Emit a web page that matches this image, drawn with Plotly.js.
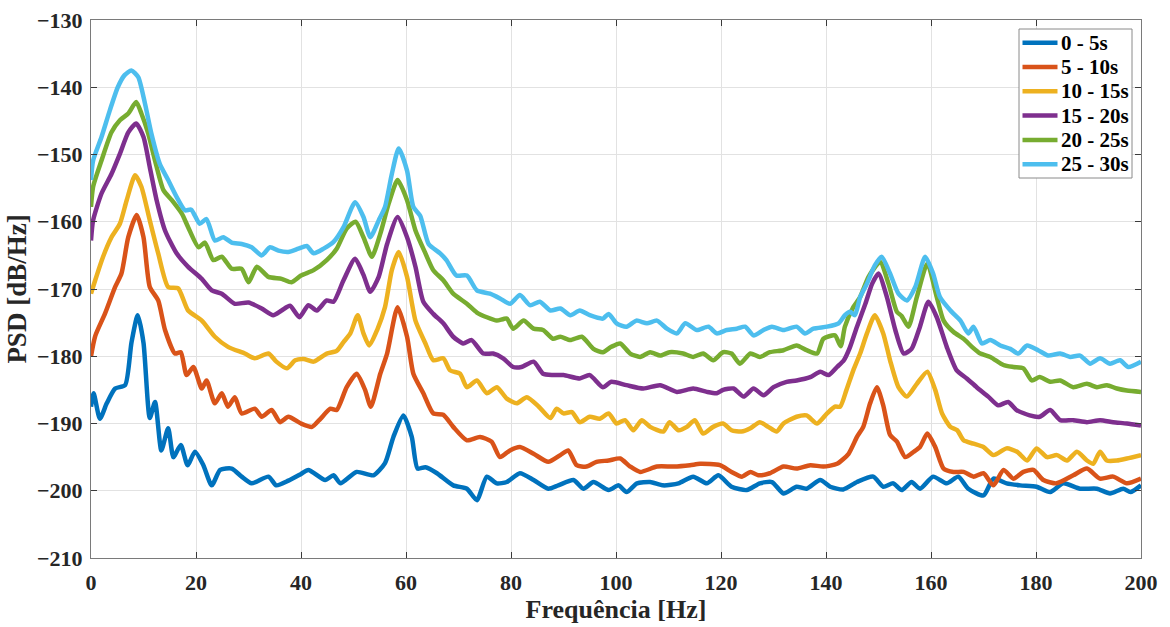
<!DOCTYPE html>
<html>
<head>
<meta charset="utf-8">
<script src="https://cdn.plot.ly/plotly-3.0.1.min.js"></script>
<style>html,body{margin:0;padding:0;background:#fff;}#chart{width:1170px;height:627px;}</style>
</head>
<body>
<div id="chart"></div>
<script>
// Legend labels
const seriesNames = ["0 - 5s", "5 - 10s", "10 - 15s", "15 - 20s", "20 - 25s", "25 - 30s"];

// 0 - 5s
const f0 = [0,0.5,1.7,3,4.6,6.5,7.7,8.9,10,11.2,12.2,13.4,14.7,15.7,17.1,18.4,19.8,21.4,23,24.6,26.8,28.7,30.6,33.8,35.3,37.6,40,41.4,44.6,46.2,47.5,50.6,53.8,56,57.6,59.5,61.1,62.2,63.7,65.9,69,71.6,73.5,75.4,77.3,79.2,81.7,84.3,87.1,89,91.9,93.8,95.7,98.6,100.5,102,104,106.5,109,111.9,114.7,117.3,119.5,122,124.9,127.4,129.7,131.9,134.4,136.3,138.9,140.8,143.3,145.9,149,150.9,152.8,154.4,156.3,157.9,160.4,163,165.2,167.1,170,171.9,174.4,177,180.1,182.7,185.2,188.4,191.6,194.1,196.6,198,200];
const p0 = [-187.5,-185.5,-189.3,-187,-184.8,-184.3,-178,-173.9,-178,-189.2,-186.8,-194,-190.7,-195,-193.2,-196.2,-194.2,-196.2,-199.2,-196.9,-196.7,-197.9,-198.9,-197.9,-199.2,-198.5,-197.5,-196.9,-198.4,-197.7,-198.9,-197.2,-197.7,-195.9,-192,-188.8,-192,-196.7,-196.5,-197.4,-199.2,-199.7,-201.4,-197.9,-198.9,-198.7,-197.4,-198.4,-199.7,-199.2,-198.4,-199.7,-198.7,-199.9,-199.2,-200.2,-198.9,-198.7,-199.2,-198.9,-197.9,-198.9,-197.7,-199.4,-199.9,-198.9,-198.7,-200.4,-199.4,-199.7,-198.4,-199.4,-199.8,-198.7,-197.9,-199.4,-198.9,-199.9,-198.7,-199.7,-197.9,-198.9,-197.9,-199.7,-200.7,-198.2,-198.9,-199.2,-199.4,-200.2,-198.9,-199.7,-199.7,-200.4,-199.7,-200.2,-199.2];

// 5 - 10s
const f1 = [0,0.8,2.7,4.6,5.8,7.1,8.7,10,11.2,12.8,14.1,16,17.1,18.2,19.5,21.1,22,23.6,24.9,26.1,27.4,28.7,31.2,32.5,34.4,36,37.6,40,42.1,43.7,45.6,46.8,48.7,50.6,52.2,53.3,55.1,56.4,58.4,60.2,61.4,63.3,65.2,67.1,69,71.6,74.1,76.3,77.9,79.8,81.7,84.3,87.1,89.4,90.9,92.5,94.4,96.3,98.6,100.8,102.7,104.6,107.8,111,114.1,116,119.8,122,124,125.6,127.1,129.3,131.9,134.4,137,139.5,142.1,144.3,145.9,147.1,148.4,149.7,150.9,152.2,153.5,155.1,156.7,157.9,159.3,160.8,162.4,164.3,166.2,168.1,170,171.9,173.8,175.7,177.6,179.5,181.4,183.9,187.1,189.7,192.2,194.7,197.3,200];
const p1 = [-180,-177,-173.6,-169.7,-167.7,-162.3,-159,-162.3,-169.7,-171.7,-176.1,-179.6,-179.4,-182.8,-181.6,-184.8,-183.6,-187,-185.5,-187.5,-186.1,-188.5,-187.8,-189,-188,-189.8,-189,-190,-190.5,-189.3,-187.8,-188,-184.6,-182.6,-185,-187.5,-182.6,-179.6,-172.7,-177.1,-182.6,-185.5,-188.5,-188.7,-190.5,-192.5,-192,-192.7,-195,-194,-193.5,-194.5,-195.7,-194.7,-194,-196.2,-196.4,-195.7,-195.5,-195.2,-196.4,-197.2,-196.4,-196.4,-196.2,-196,-196.2,-197.2,-197.9,-197.2,-197.7,-197.4,-196.4,-196.7,-196.2,-196.4,-196,-194.5,-192,-190.5,-187,-184.6,-187.3,-191.7,-192.7,-195,-194.2,-193.5,-191.5,-193.5,-196.7,-197.2,-197.2,-197.9,-197.4,-199.2,-196.9,-198.2,-197.2,-196.9,-198.4,-198.9,-197.7,-196.7,-198.2,-197.9,-198.9,-198.2];

// 10 - 15s
const f2 = [0,0.8,2.3,3.9,5.5,6.8,8.4,9.6,11.2,12.8,14.7,16.6,18.5,21.1,23.6,26.1,29.3,31.2,33.8,35.3,37.3,38.9,40.5,42.4,44.9,46.8,48.1,49.4,50.8,51.9,53,54.5,56,57.3,58.6,60.2,61.8,63.7,65.2,67.1,68.4,70.3,71.6,73.5,75.4,77.3,79.2,81.1,83,85.3,87.5,88.7,90,91.6,93.1,95,96.9,98.6,100.1,101.7,103.3,104.9,106.5,109,110.2,111.9,113.5,115,116.6,118.5,120.4,122,123.9,125.6,127.4,129,130.6,131.9,134.4,136.3,138.3,140.2,141.7,142.7,143.9,145.2,146.5,147.8,149.3,150.9,152.2,153.8,155.4,157.3,159.3,160.8,162.1,163.7,165,166.2,168.1,170,171.9,174.4,176.4,178.3,180.1,182.1,184,185.9,187.8,189.7,190.9,192.2,193.5,195.4,197.3,200];
const p2 = [-170.7,-168.7,-165.2,-162.3,-160.3,-156.8,-153.1,-154.8,-159.8,-164.7,-169.7,-169.9,-173.2,-174.7,-177.1,-178.6,-179.6,-180.3,-179.6,-180.8,-181.8,-180.6,-180.4,-180.8,-179.6,-179.2,-177.9,-176.6,-173.9,-176.6,-178.4,-176.1,-172.7,-167.2,-164.5,-168.2,-174.7,-178.1,-180.6,-180.3,-182.1,-182.6,-184.6,-183.6,-185.5,-184.6,-186.3,-187,-186.1,-187.5,-189.2,-187.8,-188.5,-188.3,-189.8,-189,-189.3,-188.5,-190,-189.5,-191,-189.5,-190.5,-191.2,-189.8,-191,-190.5,-189.5,-191.5,-190.5,-190,-191,-191.2,-190.7,-189.8,-190.5,-191.2,-190,-189,-188.8,-190,-188.5,-187.5,-187.5,-185,-182.1,-179.6,-176.6,-173.9,-176.6,-180.6,-184.6,-186,-184.1,-182.3,-185,-188.5,-190.5,-191,-192.5,-193,-193.5,-194.7,-193.7,-194.2,-195.5,-193.7,-195,-194.7,-195.5,-194.2,-195.5,-196,-194.2,-195.5,-195.5,-195.2,-194.7];

// 15 - 20s
const f3 = [0,0.4,2,3.9,5.5,7.1,8.6,10,11.2,12.5,14.1,16.3,18.5,21.1,23,24.9,27.4,30,32.5,34.7,36.3,37.9,39.7,41.4,43,44.9,46.2,48.1,50.3,51.9,53.2,54.8,56.4,58.4,60.2,61.8,63.3,65.2,67.1,69,70.9,72.5,74.7,76.6,78.5,80.4,82,84.3,86.1,88,90,93.1,95,97.5,99.1,102,105.2,108.4,111.6,114.7,117.3,119.2,120.4,122.4,124.3,126.2,128.1,130,132.5,134.4,137,138.9,140.5,142.1,143.4,144.5,145.9,147.5,148.8,150,151.6,153.2,154.8,156.3,157.9,159.5,161.1,163,164.9,166.8,168.7,170.9,172.8,174.7,176.3,178.8,180.7,182.7,184.6,187.1,189.7,192.2,194.7,197.3,200];
const p3 = [-162.8,-159.8,-155.8,-152.9,-149.9,-146.7,-145.4,-147.4,-151.9,-156.8,-161.3,-164.7,-166.7,-168.5,-170.2,-170.7,-172.2,-172,-172.9,-173.9,-173.2,-172.5,-174.2,-172.4,-173.2,-171.7,-171.9,-168.7,-165.5,-167.9,-170.4,-168.2,-163.3,-159.3,-162.3,-166.7,-171.9,-173.7,-175.1,-177.1,-178.1,-177.6,-179.6,-179.6,-180.3,-181.6,-181.6,-180.8,-182.6,-182.8,-182.8,-183.3,-182.8,-184.6,-183.8,-184.3,-184.8,-184.3,-185.3,-184.8,-185.3,-185.5,-185,-184.8,-186,-184.8,-185.8,-184.6,-183.8,-183.6,-183.1,-182.3,-182.8,-181.6,-180.6,-178.8,-175.6,-172.2,-169.2,-167.7,-171.2,-176.1,-179.6,-178.9,-175.6,-171.9,-174.2,-178.6,-182.1,-183.3,-184.6,-186,-187.3,-186.8,-188,-188.8,-189,-188,-189.5,-189.5,-189.8,-189.5,-189.8,-190,-190.3];

// 20 - 25s
const f4 = [0,0.4,2,3.9,5.5,7.1,8.6,9.6,10.9,12.2,13.8,15.4,17.3,18.5,20.5,21.7,23.3,24.9,26.8,28.7,30,31.6,33.8,36.3,38.2,40,42.4,44.9,46.8,48.7,50.4,51.9,53.5,55.1,56.7,58.4,60.2,61.8,63.7,65.2,67.1,69,71.6,73.5,75.4,77.3,79.2,80.4,82.4,84.3,86.1,88,89.4,91.3,93.5,95.7,97.5,99.1,100.8,102.7,104.6,106.5,108.4,110.2,112.8,114.7,116.6,118.5,120.4,122,123.6,125.6,127.4,129.3,131.9,134.4,136.3,138.3,139.5,141.7,142.8,143.6,145.2,146.5,148.1,150.3,151.9,153.5,154.4,155.7,157.3,159.3,161.1,162.4,164.3,166.2,167.8,169.4,171.3,173.8,175.7,177.6,179.2,180.7,182.7,184.6,187.1,189.7,191.6,193.5,195.4,197.3,200];
const p4 = [-157.8,-154.8,-150.9,-146.7,-144.9,-143.9,-142.2,-143.9,-146.9,-150.9,-155.3,-156.8,-158.8,-160.8,-163.8,-163.1,-165.7,-165.2,-167,-167,-169,-166.7,-168.2,-168.5,-169,-168,-167.2,-165.7,-164,-161,-160,-162.3,-165.2,-161.8,-157.3,-153.8,-156.8,-161.3,-164.7,-167.2,-168.7,-170.7,-172.2,-173.5,-174.2,-174.7,-174.4,-175.9,-174.7,-175.9,-176.1,-177.4,-177.1,-177.6,-177.1,-178.9,-179.4,-178.6,-178.1,-179.6,-180.1,-179.4,-179.9,-179.4,-179.6,-180.1,-179.6,-180.6,-179.4,-179.6,-181.1,-179.6,-180.1,-179.4,-179.1,-178.4,-179.1,-179.6,-177.4,-176.9,-178.5,-175.6,-172.7,-171.2,-168.2,-166,-169.2,-173.4,-174,-175.6,-171.2,-166.2,-171.2,-174.7,-176.4,-177.4,-178.6,-179.6,-180.1,-181.3,-181.6,-181.8,-183.6,-183.1,-183.8,-183.6,-184.6,-184.1,-184.6,-184.3,-184.8,-185.1,-185.3];

// 25 - 30s
const f5 = [0,0.4,2,3.6,5.1,6.4,7.7,9,10.3,11.5,13.1,14.7,16.3,17.9,19.1,20.7,22,23.6,25.2,26.8,28.7,30.6,32.5,34.1,35.7,37.6,39.5,41.1,42.4,44.3,46.2,48.1,50.3,51.9,53.2,54.8,56,57.3,58.6,60.2,61.4,62.7,64.3,66.5,67.7,69.6,71.6,73.5,76,77.9,79.8,81.7,83.6,85.5,87.5,89.4,91.3,93.1,95,97.5,98.6,100.1,102,103.9,105.9,107.8,109.7,111.6,113.2,115.4,117.6,119.2,121.1,123,124.6,126.2,128.1,129.7,131.9,134.4,136,137.6,140.2,142.4,143.6,144.6,145.5,146.5,147.8,149.3,150.6,152.2,153.8,155.4,157,158.9,160.4,161.7,163.7,165.6,167.1,168.1,169.7,171.3,173.2,175.1,176.6,178.3,180.4,182.3,184.6,186.5,188.4,190.3,192.2,194.1,196,197.6,200];
const p5 = [-153.8,-150.9,-147.4,-143.4,-140,-138.2,-137.5,-138.5,-142.5,-146.9,-151.4,-153.8,-156.3,-158.3,-158.2,-160.3,-159.6,-162.8,-162.3,-163.1,-163.3,-163.8,-165,-163.8,-164.3,-164.5,-164,-163.6,-164.7,-164,-163,-160.8,-157.1,-159.3,-162.3,-159.8,-157.8,-152.9,-149.1,-152.4,-157.8,-159.1,-163.3,-164.7,-165.7,-168,-168,-170.2,-170.7,-171.4,-172.2,-170.9,-172.4,-171.9,-173.2,-172.9,-173.9,-173.2,-173.9,-174.4,-173.7,-175.1,-175.6,-174.7,-175.1,-174.7,-175.9,-176.6,-175.1,-176.1,-175.6,-176.6,-176.1,-175.9,-175.6,-176.9,-176.1,-175.6,-176.1,-175.6,-176.6,-175.9,-175.6,-175.1,-173.9,-173.4,-173.9,-171.2,-169.2,-166.5,-165.2,-167.7,-170.7,-171.7,-169.7,-165.2,-167.7,-171.2,-173.2,-174.7,-176.6,-175.6,-178.1,-177.6,-178.4,-178.9,-179.6,-178.4,-179.1,-179.9,-179.6,-180.1,-179.9,-181.1,-180.3,-181.1,-180.6,-181.6,-180.8];

const xTicks = [0, 20, 40, 60, 80, 100, 120, 140, 160, 180, 200];
const yTicks = [-210, -200, -190, -180, -170, -160, -150, -140, -130];

const colors = ["#0072BD", "#D95319", "#EDB120", "#7E2F8E", "#77AC30", "#4DBEEE"];
const freqs = [f0, f1, f2, f3, f4, f5];
const psds = [p0, p1, p2, p3, p4, p5];

const FONT = "'Liberation Serif', 'Times New Roman', serif";
const W = 1170, H = 627;
const M = {l: 91, r: 29, t: 20, b: 69};
const PW = W - M.l - M.r, PH = H - M.t - M.b;
// pixel -> paper helpers (for the boxed legend)
const px = v => (v - M.l) / PW;
const py = v => (H - M.b - v) / PH;

const traces = seriesNames.map((name, i) => ({
  x: freqs[i], y: psds[i], name: name, type: 'scatter', mode: 'lines',
  line: {color: colors[i], width: 4.5, shape: 'spline', smoothing: 0.6},
  showlegend: false
}));

// Boxed legend in the upper-right corner (MATLAB style, tight rows)
const legBox = {x0: 1019, x1: 1132, y0: 29, y1: 178};
const rowY0 = 42.7, rowStep = 24.3;
const shapes = [{
  type: 'rect', xref: 'paper', yref: 'paper', layer: 'above',
  x0: px(legBox.x0), x1: px(legBox.x1), y0: py(legBox.y1), y1: py(legBox.y0),
  line: {color: '#8a8a8a', width: 1}, fillcolor: '#ffffff'
}];
const annotations = [];
seriesNames.forEach((name, i) => {
  const yy = py(rowY0 + i * rowStep);
  shapes.push({type: 'line', xref: 'paper', yref: 'paper', layer: 'above',
    x0: px(1022.5), x1: px(1057.5), y0: yy, y1: yy,
    line: {color: colors[i], width: 4.5}});
  annotations.push({xref: 'paper', yref: 'paper', x: px(1059), y: yy,
    xanchor: 'left', yanchor: 'middle', showarrow: false, text: name,
    font: {family: FONT, size: 21, color: '#000000', weight: 'bold'}});
});

const axisCommon = {
  showline: true, linecolor: '#7a7a7a', linewidth: 1, mirror: 'ticks',
  ticks: 'inside', ticklen: 6, tickcolor: '#3a3a3a', tickwidth: 1,
  showgrid: true, gridcolor: '#e2e2e2', gridwidth: 1, zeroline: false,
  tickfont: {family: FONT, size: 22, color: '#262626', weight: 'bold'}
};

const layout = {
  width: W, height: H,
  margin: M,
  paper_bgcolor: '#ffffff', plot_bgcolor: '#ffffff',
  showlegend: false,
  shapes: shapes,
  annotations: annotations,
  xaxis: Object.assign({}, axisCommon, {
    range: [0, 200], tickmode: 'array', tickvals: xTicks, ticklabelstandoff: 5,
    title: {text: 'Frequência [Hz]', font: {family: FONT, size: 26, color: '#262626', weight: 'bold'}, standoff: 0}
  }),
  yaxis: Object.assign({}, axisCommon, {
    range: [-210, -130], tickmode: 'array', tickvals: yTicks, ticklabelstandoff: 3,
    title: {text: 'PSD [dB/Hz]', font: {family: FONT, size: 27, color: '#262626', weight: 'bold'}, standoff: 2}
  })
};

Plotly.newPlot('chart', traces, layout, {displayModeBar: false, staticPlot: true});
</script>
</body>
</html>
